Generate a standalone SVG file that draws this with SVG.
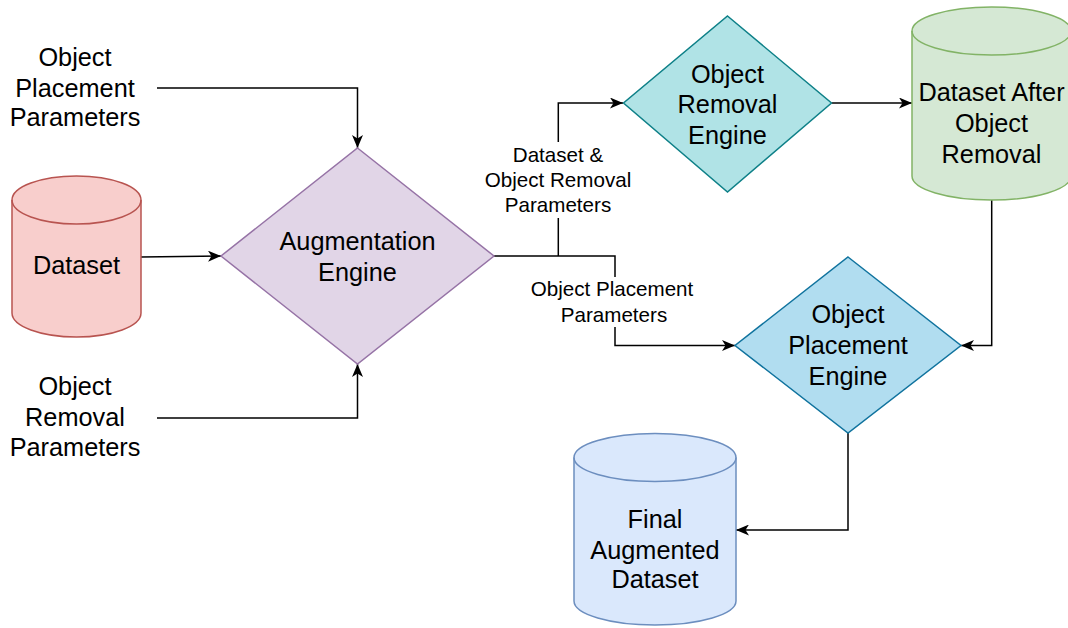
<svg xmlns="http://www.w3.org/2000/svg" width="1068" height="628" viewBox="0 0 1068 628">
<style>
  text { font-family: "Liberation Sans", Arial, Helvetica, sans-serif; fill: #000; text-anchor: middle; }
  .big { font-size: 25.3px; }
  .small { font-size: 20.6px; }
  .conn { fill: none; stroke: #000; stroke-width: 1.5; marker-end: url(#arrow); }
  .seg { fill: none; stroke: #000; stroke-width: 1.5; }
  .shape { stroke-width: 1.5; }
</style>
<defs>
  <marker id="arrow" viewBox="0 0 13 11" markerUnits="userSpaceOnUse" markerWidth="13" markerHeight="11" refX="13" refY="5.5" orient="auto">
    <path d="M0,0 L13,5.5 L0,11 L3.5,5.5 Z" fill="#000"/>
  </marker>
</defs>
<rect width="1068" height="628" fill="#ffffff"/>

<g id="connectors">
  <path class="conn" d="M157,88 L357.5,88 L357.5,148"/>
  <path class="conn" d="M157,418 L357.5,418 L357.5,364"/>
  <path class="conn" d="M141,257 L221,256"/>
  <path class="seg" d="M494,256 L615,256 L615,277"/>
  <path class="conn" d="M615,327 L615,345.5 L735,345.5"/>
  <path class="seg" d="M558.3,256 L558.3,218"/>
  <path class="conn" d="M558.3,142 L558.3,103 L623,103"/>
  <path class="conn" d="M831.5,103 L912,103"/>
  <path class="conn" d="M991.7,200 L991.7,345.5 L961,345.5"/>
  <path class="conn" d="M848,433 L848,530 L736,530"/>
</g>

<g id="label-removal-params">
  <text class="small" x="558" y="162">Dataset &amp;</text>
  <text class="small" x="558" y="187">Object Removal</text>
  <text class="small" x="558" y="212">Parameters</text>
</g>
<g id="label-placement-params">
  <text class="small" x="612" y="296">Object Placement</text>
  <text class="small" x="614" y="322">Parameters</text>
</g>

<g id="object-placement-parameters">
  <text class="big" x="75" y="66">Object</text>
  <text class="big" x="75" y="96.5">Placement</text>
  <text class="big" x="75" y="126">Parameters</text>
</g>

<g id="object-removal-parameters">
  <text class="big" x="75" y="395">Object</text>
  <text class="big" x="75" y="425.5">Removal</text>
  <text class="big" x="75" y="456">Parameters</text>
</g>

<g id="dataset">
  <path class="shape" fill="#f8cecc" stroke="#b85450" d="M12,200 A64.5,24 0 0 1 141,200 L141,313 A64.5,24 0 0 1 12,313 Z"/>
  <path class="shape" fill="none" stroke="#b85450" d="M12,200 A64.5,24 0 0 0 141,200"/>
  <text class="big" x="76.5" y="274">Dataset</text>
</g>

<g id="augmentation-engine">
  <path class="shape" fill="#e1d5e7" stroke="#9673a6" d="M357.5,148 L494,256 L357.5,364 L221,256 Z"/>
  <text class="big" x="357.5" y="250">Augmentation</text>
  <text class="big" x="357.5" y="281">Engine</text>
</g>

<g id="object-removal-engine">
  <path class="shape" fill="#b0e3e6" stroke="#0e8088" d="M727.5,16 L831.5,103 L727.5,192 L623.5,103 Z"/>
  <text class="big" x="727.5" y="83">Object</text>
  <text class="big" x="727.5" y="113">Removal</text>
  <text class="big" x="727.5" y="144">Engine</text>
</g>

<g id="dataset-after-object-removal">
  <path class="shape" fill="#d5e8d4" stroke="#82b366" d="M912,31 A79.5,24 0 0 1 1071,31 L1071,176 A79.5,24 0 0 1 912,176 Z"/>
  <path class="shape" fill="none" stroke="#82b366" d="M912,31 A79.5,24 0 0 0 1071,31"/>
  <text class="big" x="991.5" y="101">Dataset After</text>
  <text class="big" x="991.5" y="132">Object</text>
  <text class="big" x="991.5" y="163">Removal</text>
</g>

<g id="object-placement-engine">
  <path class="shape" fill="#b1ddf0" stroke="#10739e" d="M848,257 L961,345.5 L848,433 L735,345.5 Z"/>
  <text class="big" x="848" y="323">Object</text>
  <text class="big" x="848" y="354">Placement</text>
  <text class="big" x="848" y="385">Engine</text>
</g>

<g id="final-augmented-dataset">
  <path class="shape" fill="#dae8fc" stroke="#6c8ebf" d="M574,457.5 A81,24 0 0 1 736,457.5 L736,601 A81,24 0 0 1 574,601 Z"/>
  <path class="shape" fill="none" stroke="#6c8ebf" d="M574,457.5 A81,24 0 0 0 736,457.5"/>
  <text class="big" x="655" y="528">Final</text>
  <text class="big" x="655" y="559">Augmented</text>
  <text class="big" x="655" y="588">Dataset</text>
</g>
</svg>
